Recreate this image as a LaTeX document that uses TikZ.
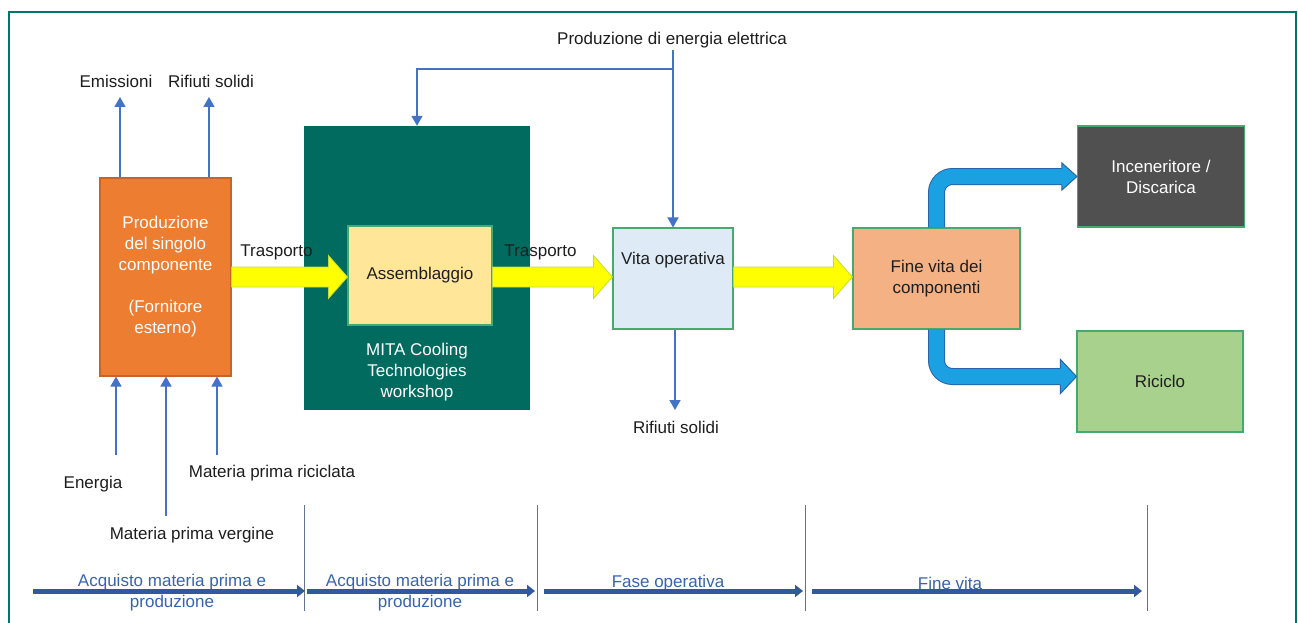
\documentclass[tikz,border=0pt]{standalone}
\usepackage{fontspec}
\setmainfont{Liberation Sans}
\usetikzlibrary{calc,arrows.meta}
\definecolor{frameC}{RGB}{0,118,106}
\definecolor{txt}{RGB}{30,30,30}
\definecolor{orangeF}{RGB}{237,125,49}
\definecolor{orangeD}{RGB}{200,100,40}
\definecolor{tealF}{RGB}{0,107,94}
\definecolor{asmF}{RGB}{255,230,153}
\definecolor{vitaF}{RGB}{222,235,247}
\definecolor{fineF}{RGB}{244,177,131}
\definecolor{incF}{RGB}{80,80,80}
\definecolor{ricF}{RGB}{169,209,142}
\definecolor{boxB}{RGB}{70,170,110}
\definecolor{yelF}{RGB}{255,255,0}
\definecolor{yelD}{RGB}{190,220,60}
\definecolor{cyanF}{RGB}{27,161,226}
\definecolor{cyanD}{RGB}{40,100,170}
\definecolor{blueL}{RGB}{68,114,196}
\definecolor{blueT}{RGB}{50,88,160}
\definecolor{blueTx}{RGB}{55,100,175}
\definecolor{sepC}{RGB}{100,115,145}
\newcommand{\yarr}[2]{%
  \filldraw[yarrow] ($(#1)+(0,10)$) -- ($(#2)+(-19,10)$) -- ($(#2)+(-19,21.5)$) -- (#2)
    -- ($(#2)+(-19,-21.5)$) -- ($(#2)+(-19,-10)$) -- ($(#1)+(0,-10)$) -- cycle;}
\begin{document}
\begin{tikzpicture}[x=1pt,y=-1pt,
  every node/.style={font=\fontsize{17}{21}\selectfont, text=txt},
  box/.style={draw=boxB, line width=1.1pt, inner sep=0pt, align=center},
  yarrow/.style={fill=yelF, draw=yelD, line width=0.8pt, line join=miter},
  tarrow/.style={draw=blueL, line width=1.5pt, -{Triangle[length=10pt,width=11pt]}},
  bent/.style={double=cyanF, double distance=15pt, line width=1pt, draw=cyanD, rounded corners=16pt},
  bhead/.style={fill=cyanF, draw=cyanD, line width=1pt, line join=miter},
  tl/.style={draw=blueT, line width=5pt, -{Triangle[length=8pt,width=12pt]}},
  sep/.style={draw=sepC, line width=1pt},
  phase/.style={text=blueTx, align=center}]
\useasboundingbox (0,0) rectangle (1298,623);
\clip (0,0) rectangle (1298,623);
\fill[white] (0,0) rectangle (1298,623);
\draw[frameC, line width=2.5pt] (9,12) rectangle (1296,680);

% boxes
\node[box, draw=orangeD, fill=orangeF, minimum width=131pt, minimum height=198pt, text=white]
  (prod) at (165.5,277) {Produzione\\del singolo\\componente\\[21pt](Fornitore\\esterno)};
\node[fill=tealF, minimum width=226pt, minimum height=284pt, inner sep=0pt] (ws) at (417,268) {};
\node[box, fill=asmF, minimum width=144pt, minimum height=99pt] (asm) at (420,275.5) {Assemblaggio};
\node[text=white, align=center] (mita) at (417,372) {MITA Cooling\\Technologies\\workshop};
\node[box, fill=vitaF, minimum width=120pt, minimum height=101pt] (vita) at (673,278.5) {};
\node (vitat) at (673,260) {Vita operativa};
\node[box, fill=fineF, minimum width=167pt, minimum height=101pt] (fine) at (936.5,278.5) {Fine vita dei\\componenti};
\node[box, fill=incF, text=white, minimum width=167pt, minimum height=101pt] (inc) at (1161,176.5) {Inceneritore /\\Discarica};
\node[box, fill=ricF, minimum width=166pt, minimum height=101pt] (ric) at (1160,381.5) {Riciclo};

% yellow arrows
\yarr{prod.east}{asm.west |- prod.east}
\yarr{asm.east |- prod.east}{vita.west |- prod.east}
\yarr{vita.east |- prod.east}{fine.west |- prod.east}

% bent blue arrows
\draw[bent] (fine.north) -- (fine.north |- inc.west) -- ($(inc.west)+(-14,0)$);
\filldraw[bhead] ($(inc.west)+(-15,-8.5)$) -- ($(inc.west)+(-15,-13.5)$) -- (inc.west)
  -- ($(inc.west)+(-15,13.5)$) -- ($(inc.west)+(-15,8.5)$);
\coordinate (rt) at ($(ric.west)+(0,-5)$);
\draw[bent] (fine.south) -- (fine.south |- rt) -- ($(rt)+(-15,0)$);
\filldraw[bhead] ($(rt)+(-16,-8.5)$) -- ($(rt)+(-16,-17)$) -- (rt)
  -- ($(rt)+(-16,17)$) -- ($(rt)+(-16,8.5)$);

% labels
\node (emi) at (116,81) {Emissioni};
\node (rs1) at (211,81) {Rifiuti solidi};
\node (pel) at (672,40) {Produzione di energia elettrica};
\node (rs2) at (676,427) {Rifiuti solidi};
\node (ene) at (93,484) {Energia};
\node (mpr) at (272,473) {Materia prima riciclata};
\node (mpv) at (192,535) {Materia prima vergine};
\node (tr1) at (276.5,252) {Trasporto};
\node (tr2) at (540.5,252) {Trasporto};

% thin arrows
\coordinate (e1) at (120,97);
\coordinate (e2) at (209,97);
\draw[tarrow] (e1 |- prod.north) -- (e1);
\draw[tarrow] (e2 |- prod.north) -- (e2);
\coordinate (i1) at (116,455);
\coordinate (i2) at (166,516);
\coordinate (i3) at (217,455);
\draw[tarrow] (i1) -- (i1 |- prod.south);
\draw[tarrow] (i2) -- (i2 |- prod.south);
\draw[tarrow] (i3) -- (i3 |- prod.south);
\coordinate (pw) at (673,50);
\coordinate (jn) at (673,69);
\draw[tarrow] (pw) -- (pw |- vita.north);
\draw[tarrow] (jn) -| (ws.north);
\coordinate (rb) at (675,410);
\draw[tarrow] (rb |- vita.south) -- (rb);

% timeline
\node[phase] (ph1) at (172,593) {Acquisto materia prima e\\produzione};
\node[phase] (ph2) at (420,593) {Acquisto materia prima e\\produzione};
\node[phase] (ph3) at (668,583) {Fase operativa};
\node[phase] (ph4) at (950,583) {Fine vita};
\foreach \x in {304,537,805,1147} \draw[sep] (\x,505) -- (\x,611);
\draw[tl] (33,591) -- (305,591);
\draw[tl] (307,591) -- (535,591);
\draw[tl] (544,591) -- (803,591);
\draw[tl] (812,591) -- (1142,591);
\end{tikzpicture}
\end{document}
